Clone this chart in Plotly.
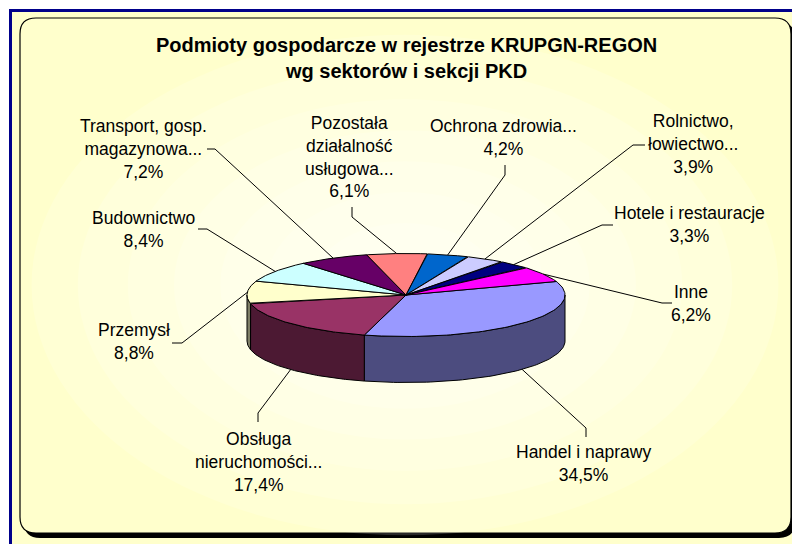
import numpy as np
import plotly.graph_objects as go

# ---------------- data ----------------
categories = ["Handel i naprawy", "Obsługa nieruchomości...", "Przemysł", "Budownictwo",
              "Transport, gosp. magazynowa...", "Pozostała działalność usługowa...",
              "Ochrona zdrowia...", "Rolnictwo, łowiectwo...", "Hotele i restauracje", "Inne"]
values = [34.5, 17.4, 8.8, 8.4, 7.2, 6.1, 4.2, 3.9, 3.3, 6.2]
label_lines = [["Handel i naprawy"], ["Obsługa", "nieruchomości..."], ["Przemysł"], ["Budownictwo"],
               ["Transport, gosp.", "magazynowa..."], ["Pozostała", "działalność", "usługowa..."],
               ["Ochrona zdrowia..."], ["Rolnictwo,", "łowiectwo..."], ["Hotele i restauracje"], ["Inne"]]
colors = ["#9999FF", "#993366", "#FFFFCC", "#CCFFFF", "#660066", "#FF8080",
          "#0066CC", "#CCCCFF", "#000080", "#FF00FF"]
title_lines = ["Podmioty gospodarcze w rejestrze KRUPGN-REGON", "wg sektorów i sekcji PKD"]

# ---------------- layout / styling ----------------
W, H = 800, 544
OFF = 8  # page body margin of the browser
CX, CY, RX, RY, DEPTH = 406, 295, 159, 41.5, 46
ROT = 71.0  # start angle, degrees clockwise from top
FONT = "Liberation Sans, Arial, sans-serif"
LBL_SIZE = 17.5
# label block centers (x, y) and leader (text end, elbow)
label_xy = [(583, 463), (258, 462), (134, 341), (143, 229), (143, 149),
            (349, 157), (503, 137), (693, 144), (689, 224), (691, 303)]
leader_pts = [((586, 437), (586, 428)), ((258, 422), (258, 413)), ((172, 343), (182, 343)),
              ((198, 229), (207, 229)), ((207, 149), (215, 149)), ((352, 207), (352, 217)),
              ((505, 165), (505, 175)), ((645, 145), (633, 145)), ((613, 225), (602, 225)),
              ((672, 303), (662, 303))]


def darker(hexc, f=0.5):
    h = hexc.lstrip('#')
    r, g, b = (int(h[i:i + 2], 16) for i in (0, 2, 4))
    return "#%02X%02X%02X" % (int(r * f), int(g * f), int(b * f))


def ell(theta_deg, dy=0.0):
    t = np.radians(theta_deg)
    return CX + RX * np.sin(t), CY - RY * np.cos(t) + dy


def rrect(x0, y0, x1, y1, r):
    return (f"M {x0+r},{y0} L {x1-r},{y0} Q {x1},{y0} {x1},{y0+r} L {x1},{y1-r} "
            f"Q {x1},{y1} {x1-r},{y1} L {x0+r},{y1} Q {x0},{y1} {x0},{y1-r} "
            f"L {x0},{y0+r} Q {x0},{y0} {x0+r},{y0} Z")


fig = go.Figure()

total = sum(values)
starts, ends = [], []
acc = 0.0
for v in values:
    a1 = ROT + 360.0 * acc / total
    acc += v
    a2 = ROT + 360.0 * acc / total
    starts.append(a1)
    ends.append(a2)

# side walls (front half: 90..270 degrees)
for a1, a2, c in zip(starts, ends, colors):
    lo, hi = max(a1, 90.0), min(a2, 270.0)
    if hi <= lo:
        continue
    th = np.linspace(lo, hi, 80)
    xt, yt = ell(th)
    xb, yb = ell(th[::-1], DEPTH)
    xs = np.concatenate([xt, xb, xt[:1]])
    ys = np.concatenate([yt, yb, yt[:1]])
    fig.add_trace(go.Scatter(x=xs, y=ys, mode="lines", fill="toself", fillcolor=darker(c),
                             line=dict(color="black", width=1), hoverinfo="skip", showlegend=False))

# top faces
for a1, a2, c, name in zip(starts, ends, colors, categories):
    th = np.linspace(a1, a2, 80)
    xa, ya = ell(th)
    xs = np.concatenate([[CX], xa, [CX]])
    ys = np.concatenate([[CY], ya, [CY]])
    fig.add_trace(go.Scatter(x=xs, y=ys, mode="lines", fill="toself", fillcolor=c,
                             line=dict(color="black", width=1), name=name,
                             hoverinfo="skip", showlegend=False))

# leaders + labels
for a1, a2, v, lines, (lx, ly), (p0, p1) in zip(starts, ends, values, label_lines, label_xy, leader_pts):
    mid = (a1 + a2) / 2.0
    m = mid % 360
    dy = DEPTH if 90 < m < 270 else 0.0
    ex, ey = ell(mid, dy)
    fig.add_trace(go.Scatter(x=[p0[0], p1[0], ex], y=[p0[1], p1[1], ey], mode="lines",
                             line=dict(color="black", width=1), hoverinfo="skip", showlegend=False))
    txt = "<br>".join(lines + [f"{v:.1f}%".replace(".", ",")])
    fig.add_annotation(x=lx, y=ly, xref="x", yref="y", text=txt, showarrow=False,
                       font=dict(family=FONT, size=LBL_SIZE, color="black"),
                       xanchor="center", yanchor="middle", align="center")

# title
fig.add_annotation(x=406, y=58, xref="x", yref="y", text="<b>" + "<br>".join(title_lines) + "</b>",
                   showarrow=False, font=dict(family=FONT, size=20, color="black"),
                   xanchor="center", yanchor="middle", align="center")

# background shapes
shapes = [
    dict(type="rect", x0=12, y0=12, x1=W + 5, y1=H + 5, fillcolor="#FFFFCC", line_width=0, layer="below"),
    dict(type="line", x0=10.5, y0=9, x1=10.5, y1=H + 5, line=dict(color="#00008B", width=3), layer="below"),
    dict(type="line", x0=9, y0=10.5, x1=W + 5, y1=10.5, line=dict(color="#00008B", width=3), layer="below"),
    dict(type="path", path=rrect(24, 22, 795, 538, 16), fillcolor="black", line_width=0, layer="below"),
    dict(type="path", path=rrect(20, 18, 791, 533, 16), fillcolor="#FFFFCC",
         line=dict(color="black", width=1.2), layer="below"),
]
for f in [0.97, 0.85, 0.72, 0.6, 0.48, 0.36, 0.24]:
    rx, ry = 385 * f, 258 * f
    shapes.append(dict(type="circle", x0=405 - rx, x1=405 + rx, y0=285 - ry, y1=285 + ry,
                       fillcolor="rgba(255,255,255,0.16)", line_width=0, layer="below"))

fig.update_layout(
    width=W - OFF, height=H - OFF, margin=dict(l=0, r=0, t=0, b=0),
    paper_bgcolor="white", plot_bgcolor="rgba(0,0,0,0)",
    xaxis=dict(range=[OFF, W], visible=False, fixedrange=True),
    yaxis=dict(range=[H, OFF], visible=False, fixedrange=True),
    shapes=shapes, showlegend=False,
)

fig.write_html("out.html")
